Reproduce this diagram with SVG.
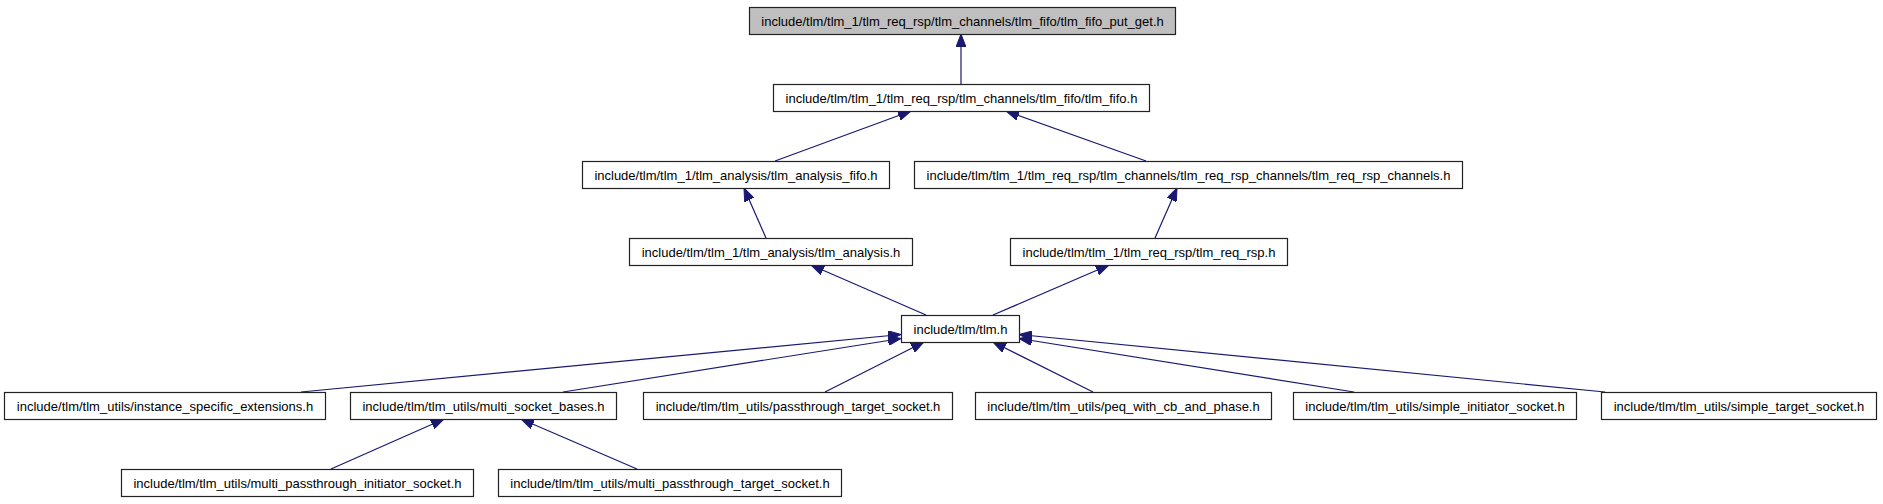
<svg xmlns="http://www.w3.org/2000/svg" width="1883" height="504" viewBox="0 0 1883 504">
<style>
  .node rect { fill: #ffffff; stroke: #222222; stroke-width: 1.2; }
  .node.root rect { fill: #bfbfbf; }
  .node text { font-family: "Liberation Sans", Arial, sans-serif; font-size: 13px; fill: #000000; text-anchor: middle; }
  .edges line { stroke: #191970; stroke-width: 1.2; fill: none; marker-end: url(#arrow); }
</style>
<defs>
  <marker id="arrow" markerUnits="userSpaceOnUse" markerWidth="14" markerHeight="10" refX="13" refY="5" orient="auto">
    <path d="M0,0 L13,5 L0,10 z" fill="#191970" stroke="#191970" stroke-width="1"/>
  </marker>
</defs>
<rect x="0" y="0" width="1883" height="504" fill="#ffffff"/>
<g class="edges" id="edges">
  <line x1="961" y1="84" x2="961" y2="34"/>
  <line x1="775" y1="161" x2="911" y2="111"/>
  <line x1="1146" y1="161" x2="1006" y2="111"/>
  <line x1="766" y1="238" x2="744" y2="188"/>
  <line x1="1155" y1="238" x2="1177" y2="188"/>
  <line x1="926" y1="315" x2="811" y2="265"/>
  <line x1="993" y1="315" x2="1109" y2="265"/>
  <line x1="301" y1="392" x2="901" y2="334.5"/>
  <line x1="563" y1="392" x2="901" y2="338.5"/>
  <line x1="825" y1="392" x2="924" y2="342"/>
  <line x1="1093" y1="392" x2="993" y2="342"/>
  <line x1="1354" y1="392" x2="1019" y2="338.5"/>
  <line x1="1605" y1="392" x2="1019" y2="334.5"/>
  <line x1="331" y1="469" x2="444" y2="419"/>
  <line x1="637" y1="469" x2="521" y2="419"/>
</g>
<g class="node root" id="node_put_get">
  <rect x="749.5" y="7.5" width="426" height="27"/>
  <text x="962.5" y="26">include/tlm/tlm_1/tlm_req_rsp/tlm_channels/tlm_fifo/tlm_fifo_put_get.h</text>
</g>
<g class="node" id="node_tlm_fifo">
  <rect x="773.5" y="84.5" width="376" height="27"/>
  <text x="961.5" y="103">include/tlm/tlm_1/tlm_req_rsp/tlm_channels/tlm_fifo/tlm_fifo.h</text>
</g>
<g class="node" id="node_analysis_fifo">
  <rect x="582.5" y="161.5" width="307" height="27"/>
  <text x="736" y="180">include/tlm/tlm_1/tlm_analysis/tlm_analysis_fifo.h</text>
</g>
<g class="node" id="node_req_rsp_channels">
  <rect x="914.5" y="161.5" width="548" height="27"/>
  <text x="1188.5" y="180">include/tlm/tlm_1/tlm_req_rsp/tlm_channels/tlm_req_rsp_channels/tlm_req_rsp_channels.h</text>
</g>
<g class="node" id="node_analysis">
  <rect x="629.5" y="238.5" width="283" height="27"/>
  <text x="771" y="257">include/tlm/tlm_1/tlm_analysis/tlm_analysis.h</text>
</g>
<g class="node" id="node_req_rsp">
  <rect x="1010.5" y="238.5" width="277" height="27"/>
  <text x="1149" y="257">include/tlm/tlm_1/tlm_req_rsp/tlm_req_rsp.h</text>
</g>
<g class="node" id="node_tlm">
  <rect x="901.5" y="315.5" width="118" height="27"/>
  <text x="960.5" y="334">include/tlm/tlm.h</text>
</g>
<g class="node" id="node_instance_specific_extensions">
  <rect x="4.5" y="392.5" width="321" height="27"/>
  <text x="165" y="411">include/tlm/tlm_utils/instance_specific_extensions.h</text>
</g>
<g class="node" id="node_multi_socket_bases">
  <rect x="350.5" y="392.5" width="266" height="27"/>
  <text x="483.5" y="411">include/tlm/tlm_utils/multi_socket_bases.h</text>
</g>
<g class="node" id="node_passthrough_target_socket">
  <rect x="643.5" y="392.5" width="309" height="27"/>
  <text x="798" y="411">include/tlm/tlm_utils/passthrough_target_socket.h</text>
</g>
<g class="node" id="node_peq_with_cb_and_phase">
  <rect x="975.5" y="392.5" width="296" height="27"/>
  <text x="1123.5" y="411">include/tlm/tlm_utils/peq_with_cb_and_phase.h</text>
</g>
<g class="node" id="node_simple_initiator_socket">
  <rect x="1293.5" y="392.5" width="283" height="27"/>
  <text x="1435" y="411">include/tlm/tlm_utils/simple_initiator_socket.h</text>
</g>
<g class="node" id="node_simple_target_socket">
  <rect x="1601.5" y="392.5" width="275" height="27"/>
  <text x="1739" y="411">include/tlm/tlm_utils/simple_target_socket.h</text>
</g>
<g class="node" id="node_multi_passthrough_initiator_socket">
  <rect x="121.5" y="469.5" width="352" height="27"/>
  <text x="297.5" y="488">include/tlm/tlm_utils/multi_passthrough_initiator_socket.h</text>
</g>
<g class="node" id="node_multi_passthrough_target_socket">
  <rect x="498.5" y="469.5" width="343" height="27"/>
  <text x="670" y="488">include/tlm/tlm_utils/multi_passthrough_target_socket.h</text>
</g>
</svg>
